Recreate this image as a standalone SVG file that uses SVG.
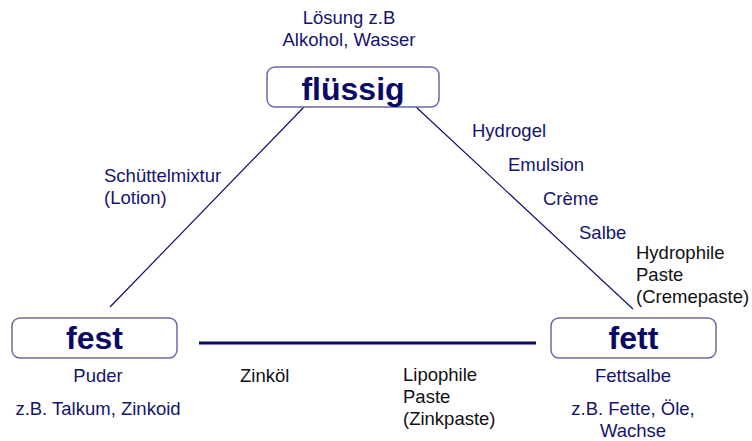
<svg xmlns="http://www.w3.org/2000/svg" width="752" height="441" viewBox="0 0 752 441">
<style>
.box{fill:#fff;stroke:#6a6aa8;stroke-width:1.5}
.title{font-family:"Liberation Sans",Arial,sans-serif;font-weight:bold;font-size:32px;fill:#0a0a66;text-anchor:middle}
.t{font-family:"Liberation Sans",Arial,sans-serif;font-size:18.5px;fill:#14146e}
.k{font-family:"Liberation Sans",Arial,sans-serif;font-size:18.5px;fill:#111}
.m{text-anchor:middle}
.ln{stroke:#10106a;stroke-width:1.2;fill:none}
</style>
<rect width="752" height="441" fill="#fff"/>
<g id="connectors">
<line class="ln" x1="304" y1="107" x2="110" y2="307"/>
<line class="ln" x1="416" y1="107" x2="633" y2="309"/>
<line x1="199" y1="343" x2="536" y2="343" stroke="#0a0a66" stroke-width="3"/>
</g>
<g id="fluessig">
<rect class="box" x="267" y="67" width="172" height="40" rx="8"/>
<text class="title" x="353" y="100">flüssig</text>
</g>
<g id="fest">
<rect class="box" x="12" y="318" width="165" height="40" rx="8"/>
<text class="title" x="94.5" y="349">fest</text>
</g>
<g id="fett">
<rect class="box" x="551" y="318" width="165" height="40" rx="8"/>
<text class="title" x="633.5" y="349">fett</text>
</g>
<g id="labels">
<text class="t m" x="349" y="24">Lösung z.B</text>
<text class="t m" x="349" y="46">Alkohol, Wasser</text>
<text class="t" x="104" y="182">Schüttelmixtur</text>
<text class="t" x="104" y="204">(Lotion)</text>
<text class="t" x="472" y="137">Hydrogel</text>
<text class="t" x="508" y="171">Emulsion</text>
<text class="t" x="543" y="205">Crème</text>
<text class="t" x="579" y="239">Salbe</text>
<text class="k" x="636" y="259">Hydrophile</text>
<text class="k" x="636" y="281">Paste</text>
<text class="k" x="636" y="303">(Cremepaste)</text>
<text class="t m" x="98" y="382">Puder</text>
<text class="t m" x="98" y="415">z.B. Talkum, Zinkoid</text>
<text class="k" x="240" y="382">Zinköl</text>
<text class="k" x="403" y="381">Lipophile</text>
<text class="k" x="403" y="403">Paste</text>
<text class="k" x="403" y="425">(Zinkpaste)</text>
<text class="t m" x="633" y="382">Fettsalbe</text>
<text class="t m" x="633" y="415">z.B. Fette, Öle,</text>
<text class="t m" x="633" y="437">Wachse</text>
</g>
</svg>
